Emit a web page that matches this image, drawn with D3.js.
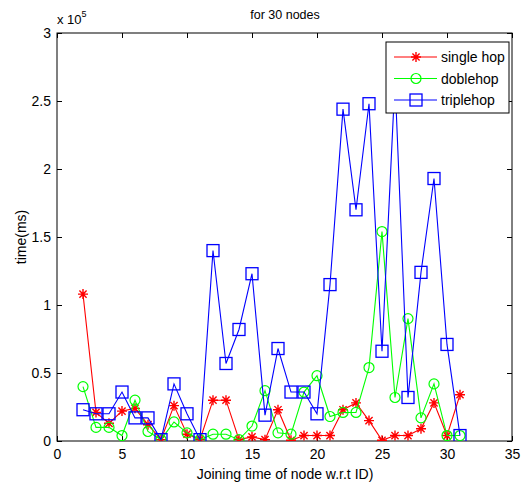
<!DOCTYPE html>
<html>
<head>
<meta charset="utf-8">
<script src="https://cdn.jsdelivr.net/npm/d3@7"></script>
<style>
  html, body { margin: 0; padding: 0; background: #fff; }
  svg { display: block; }
  text { font-family: "Liberation Sans Narrow", "Liberation Sans", Arial, sans-serif; fill: #000; }
</style>
</head>
<body>
<svg id="chart" width="528" height="484"></svg>
<script>
// Joining time (node ID) on x, time in units of 1e5 ms on y
const nodes = [2,3,4,5,6,7,8,9,10,11,12,13,14,15,16,17,18,19,20,21,22,23,24,25,26,27,28,29,30,31];
const singleHop = [1.08,0.21,0.13,0.22,0.24,0.12,0.01,0.26,0.05,0.01,0.30,0.30,0.01,0.03,0.01,0.23,0.005,0.04,0.04,0.04,0.23,0.28,0.15,0.005,0.04,0.04,0.09,0.28,0.04,0.34];
const dobleHop = [0.40,0.10,0.10,0.04,0.30,0.07,0.01,0.14,0.06,0.01,0.05,0.05,0.01,0.11,0.37,0.06,0.05,0.36,0.48,0.18,0.21,0.21,0.54,1.54,0.32,0.90,0.17,0.42,0.04,0.04];
const tripleHop = [0.23,0.20,0.20,0.36,0.17,0.17,0.01,0.42,0.20,0.01,1.40,0.57,0.82,1.23,0.19,0.68,0.36,0.36,0.20,1.15,2.44,1.70,2.48,0.66,2.65,0.32,1.24,1.93,0.71,0.04];
const xTicks = [0,5,10,15,20,25,30,35];
const yTicks = [0,0.5,1,1.5,2,2.5,3];
const yTickLabels = ["0","0.5","1","1.5","2","2.5","3"];
const seriesNames = ["single hop","doblehop","triplehop"];
const seriesColors = ["#ff0000","#00ff00","#0000ff"];
const seriesMarkers = ["star","circle","square"];

const svg = d3.select("#chart");
const pL = 57, pR = 512, pT = 33, pB = 441;
const x = d3.scaleLinear().domain([0,35]).range([pL,pR]);
const y = d3.scaleLinear().domain([0,3]).range([pB,pT]);

// plot box
svg.append("rect").attr("x",pL).attr("y",pT).attr("width",pR-pL).attr("height",pB-pT)
  .attr("fill","#fff").attr("stroke","#000").attr("stroke-width",1);

// axes with inward ticks on all four sides
const tl = 5;
svg.append("g").attr("transform",`translate(0,${pB})`)
  .call(d3.axisBottom(x).tickValues(xTicks).tickSize(-tl).tickPadding(8).tickFormat(d3.format("d")))
  .call(g => { g.select(".domain").remove(); g.selectAll("text").attr("font-size",14); });
svg.append("g").attr("transform",`translate(0,${pT})`)
  .call(d3.axisTop(x).tickValues(xTicks).tickSize(-tl).tickFormat(""))
  .call(g => g.select(".domain").remove());
svg.append("g").attr("transform",`translate(${pL},0)`)
  .call(d3.axisLeft(y).tickValues(yTicks).tickSize(-tl).tickPadding(6).tickFormat((d,i)=>yTickLabels[i]))
  .call(g => { g.select(".domain").remove(); g.selectAll("text").attr("font-size",14); });
svg.append("g").attr("transform",`translate(${pR},0)`)
  .call(d3.axisRight(y).tickValues(yTicks).tickSize(-tl).tickFormat(""))
  .call(g => g.select(".domain").remove());
svg.selectAll(".tick line").attr("stroke","#000");

// clip for data
svg.append("clipPath").attr("id","plotclip").append("rect")
  .attr("x",pL).attr("y",pT).attr("width",pR-pL).attr("height",pB-pT);

function drawMarker(g, type, color) {
  if (type === "star") {
    const r = 5, d = r*0.72;
    g.append("path").attr("d",`M${-r},0H${r}M0,${-r}V${r}M${-d},${-d}L${d},${d}M${-d},${d}L${d},${-d}`)
      .attr("stroke",color).attr("stroke-width",1.4).attr("fill","none");
  } else if (type === "circle") {
    g.append("circle").attr("r",5).attr("stroke",color).attr("stroke-width",1.2).attr("fill","none");
  } else {
    g.append("rect").attr("x",-6).attr("y",-6).attr("width",12).attr("height",12)
      .attr("stroke",color).attr("stroke-width",1.3).attr("fill","none");
  }
}

const allSeries = [singleHop, dobleHop, tripleHop];
const plot = svg.append("g").attr("clip-path","url(#plotclip)");
const line = d3.line().x((d,i)=>x(nodes[i])).y(d=>y(d));
allSeries.forEach((vals, s) => {
  const g = plot.append("g");
  g.append("path").datum(vals).attr("d",line).attr("fill","none")
    .attr("stroke",seriesColors[s]).attr("stroke-width",1.1);
  vals.forEach((v,i) => {
    const m = g.append("g").attr("transform",`translate(${x(nodes[i])},${y(v)})`);
    drawMarker(m, seriesMarkers[s], seriesColors[s]);
  });
});

// legend
const lg = svg.append("g");
lg.append("rect").attr("x",386).attr("y",42).attr("width",123).attr("height",71)
  .attr("fill","#fff").attr("stroke","#000").attr("stroke-width",1);
seriesNames.forEach((name,s) => {
  const ly = 57 + s*21.5;
  lg.append("line").attr("x1",394).attr("x2",437).attr("y1",ly).attr("y2",ly)
    .attr("stroke",seriesColors[s]).attr("stroke-width",1.1);
  drawMarker(lg.append("g").attr("transform",`translate(416,${ly})`), seriesMarkers[s], seriesColors[s]);
  lg.append("text").attr("x",441).attr("y",ly+5).attr("font-size",14).text(name);
});

// title, exponent and axis labels
svg.append("text").attr("x",285).attr("y",19).attr("text-anchor","middle").attr("font-size",12.5).text("for 30 nodes");
const ex = svg.append("text").attr("x",57).attr("y",24).attr("font-size",13);
ex.append("tspan").text("x 10");
ex.append("tspan").attr("dy",-7).attr("font-size",9).text("5");
svg.append("text").attr("x",285).attr("y",479).attr("text-anchor","middle").attr("font-size",14)
  .text("Joining time of node w.r.t ID)");
svg.append("text").attr("transform","translate(26,237) rotate(-90)").attr("text-anchor","middle")
  .attr("font-size",14).text("time(ms)");
</script>
</body>
</html>
